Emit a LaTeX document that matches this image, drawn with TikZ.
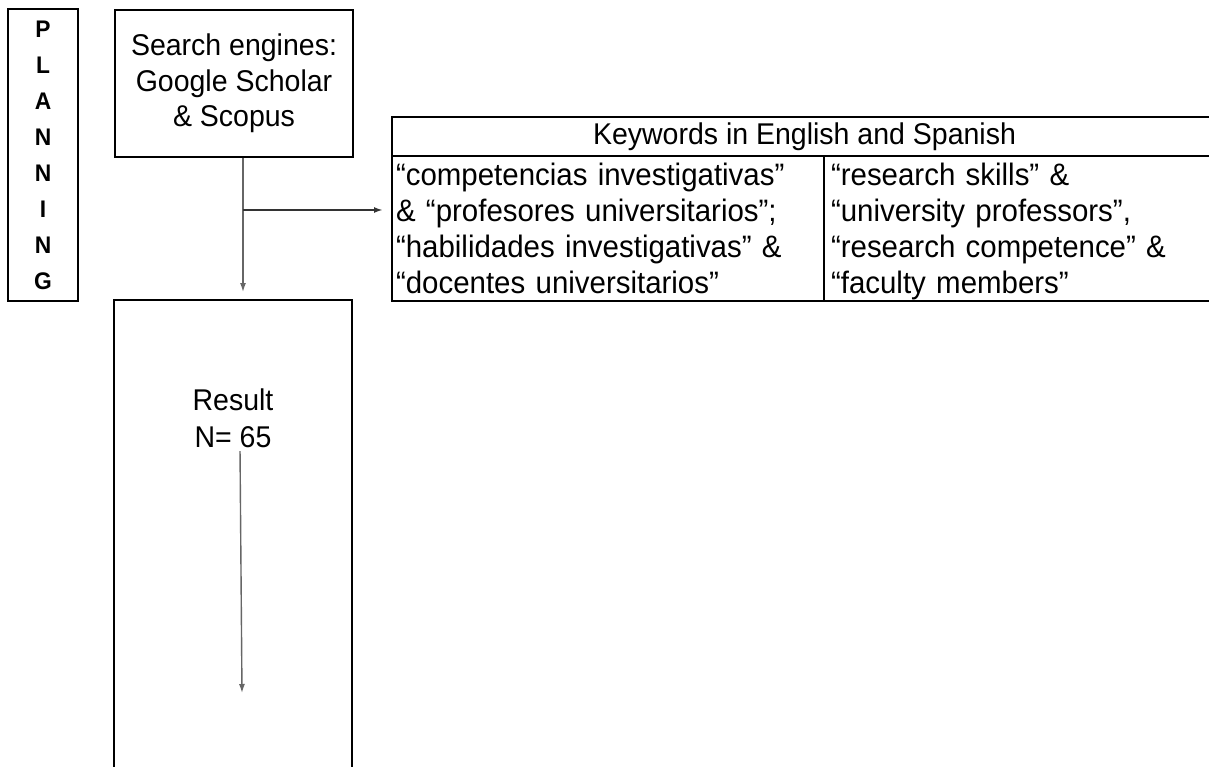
\documentclass[tikz,border=0pt]{standalone}
\usepackage{fontspec}
\setmainfont{Liberation Sans}[FakeStretch=0.95]
\usetikzlibrary{arrows.meta}
\newcommand{\topstrut}{\rule{0pt}{29pt}}
\newcommand{\botstrut}{\rule[-7pt]{0pt}{7pt}}
\begin{document}
\begin{tikzpicture}[x=1pt,y=-1pt,
  box/.style={draw=black,line width=2pt,rectangle,inner sep=0pt},
  txt/.style={font=\fontsize{30}{35.5}\selectfont,align=center,inner sep=0pt},
  cellbox/.style={box,font=\fontsize{31}{36}\selectfont,align=left,minimum height=145pt},
  conn/.style={draw=black!70,line width=1.6pt,-{Latex[length=9pt,width=6pt]}}
]
\useasboundingbox (0,0) rectangle (1209,767);
\clip (0,0) rectangle (1209,767);
\fill[white] (0,0) rectangle (1209,767);

% PLANNING label box
\node[box,minimum width=70pt,minimum height=292pt,align=center,
      font=\fontsize{24}{36}\selectfont\bfseries] (plan) at (43,155)
  {P\\L\\A\\N\\N\\I\\N\\G};

% search engines box
\node[box,txt,minimum width=238pt,minimum height=147pt] (search) at (234,83.5)
  {Search engines:\\Google Scholar\\\& Scopus};

% keywords table
\node[box,txt,minimum width=825pt,minimum height=39pt] (kwhead) at (804.5,136.5)
  {Keywords in English and Spanish};
\node[cellbox,text width=424pt,inner xsep=4pt,inner ysep=0pt] (kwleft) at (608,228.5)
  {\topstrut“competencias investigativas”\\\& “profesores universitarios”;\\“habilidades investigativas” \&\\“docentes universitarios”\botstrut};
\node[cellbox,text width=379pt,inner xsep=7pt,inner ysep=0pt] (kwright) at (1020.5,228.5)
  {\topstrut“research skills” \&\\“university professors”,\\“research competence” \&\\“faculty members”\botstrut};

% result box
\node[box,minimum width=238pt,minimum height=500pt] (result) at (233,550) {};
\node[txt,font=\fontsize{30}{37}\selectfont] (restxt) at (233,418.5) {Result\\N= 65};
\coordinate (resend) at (242,693);

% connectors
\coordinate (junc) at (243,210);
\draw[conn,line width=1.4pt,draw=black!60,shorten >=7pt] (search.south -| junc) -- (result.north -| junc);
\draw[conn,line width=2pt,draw=black!80,shorten >=8pt] (junc) -- (kwleft.west |- junc);
\draw[conn,line width=1.4pt,draw=black!60,shorten <=3pt] ([xshift=7pt]restxt.south) -- (resend);
\end{tikzpicture}
\end{document}
